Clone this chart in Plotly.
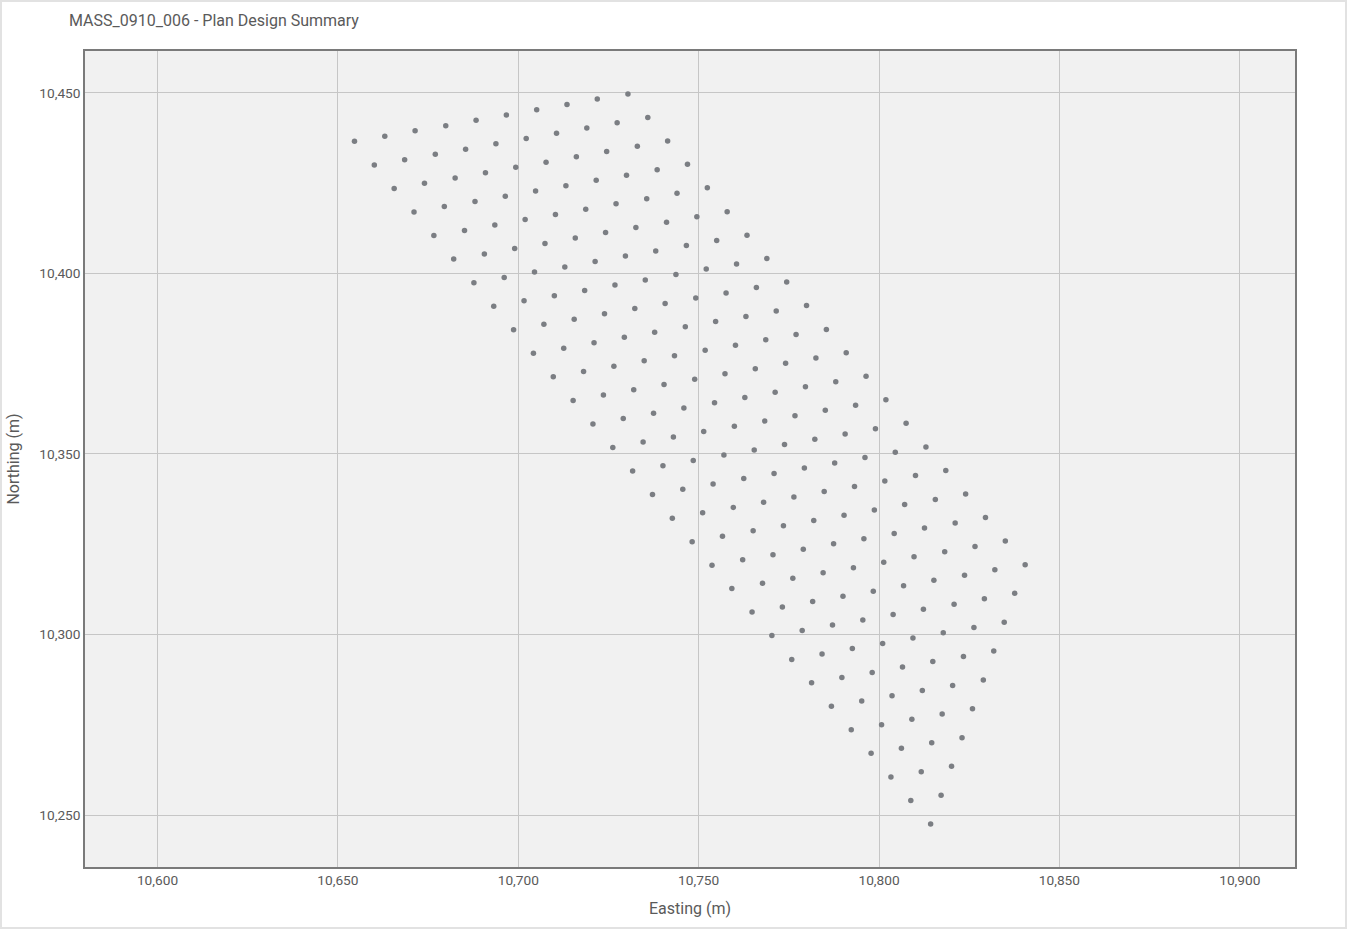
import plotly.graph_objects as go

TITLE = "MASS_0910_006 - Plan Design Summary"
X_TITLE = "Easting (m)"
Y_TITLE = "Northing (m)"

X_TICKS = [10600, 10650, 10700, 10750, 10800, 10850, 10900]
X_TICK_LABELS = ["10,600", "10,650", "10,700", "10,750", "10,800", "10,850", "10,900"]
Y_TICKS = [10250, 10300, 10350, 10400, 10450]
Y_TICK_LABELS = ["10,250", "10,300", "10,350", "10,400", "10,450"]

# Planned station positions, row by row
EASTING = [
    10654.6, 10663.0, 10671.4, 10679.9, 10688.3, 10696.7, 10705.1, 10713.5, 10721.9, 10730.4,
    10660.1, 10668.5, 10677.0, 10685.4, 10693.8, 10702.2, 10710.6, 10719.0, 10727.4, 10735.9,
    10665.6, 10674.0, 10682.5, 10690.9, 10699.3, 10707.7, 10716.1, 10724.5, 10733.0, 10741.4,
    10671.1, 10679.5, 10688.0, 10696.4, 10704.8, 10713.2, 10721.6, 10730.0, 10738.5, 10746.9,
    10676.6, 10685.1, 10693.5, 10701.9, 10710.3, 10718.7, 10727.1, 10735.6, 10744.0, 10752.4,
    10682.1, 10690.6, 10699.0, 10707.4, 10715.8, 10724.2, 10732.6, 10741.1, 10749.5, 10757.9,
    10687.7, 10696.1, 10704.5, 10712.9, 10721.3, 10729.7, 10738.1, 10746.6, 10755.0, 10763.4,
    10693.2, 10701.6, 10710.0, 10718.4, 10726.8, 10735.2, 10743.7, 10752.1, 10760.5, 10768.9,
    10698.7, 10707.1, 10715.5, 10723.9, 10732.3, 10740.7, 10749.2, 10757.6, 10766.0, 10774.4,
    10704.2, 10712.6, 10721.0, 10729.4, 10737.8, 10746.3, 10754.7, 10763.1, 10771.5, 10779.9,
    10709.7, 10718.1, 10726.5, 10734.9, 10743.3, 10751.8, 10760.2, 10768.6, 10777.0, 10785.4,
    10715.2, 10723.6, 10732.0, 10740.4, 10748.9, 10757.3, 10765.7, 10774.1, 10782.5, 10790.9,
    10720.7, 10729.1, 10737.5, 10745.9, 10754.4, 10762.8, 10771.2, 10779.6, 10788.0, 10796.4,
    10726.2, 10734.6, 10743.0, 10751.4, 10759.9, 10768.3, 10776.7, 10785.1, 10793.5, 10801.9,
    10731.7, 10740.1, 10748.5, 10757.0, 10765.4, 10773.8, 10782.2, 10790.6, 10799.0, 10807.5,
    10737.2, 10745.6, 10754.0, 10762.5, 10770.9, 10779.3, 10787.7, 10796.1, 10804.5, 10813.0,
    10742.7, 10751.1, 10759.6, 10768.0, 10776.4, 10784.8, 10793.2, 10801.6, 10810.1, 10818.5,
    10748.2, 10756.6, 10765.1, 10773.5, 10781.9, 10790.3, 10798.7, 10807.1, 10815.6, 10824.0,
    10753.7, 10762.2, 10770.6, 10779.0, 10787.4, 10795.8, 10804.2, 10812.6, 10821.1, 10829.5,
    10759.2, 10767.7, 10776.1, 10784.5, 10792.9, 10801.3, 10809.7, 10818.2, 10826.6, 10835.0,
    10764.8, 10773.2, 10781.6, 10790.0, 10798.4, 10806.8, 10815.2, 10823.7, 10832.1, 10840.5,
    10770.3, 10778.7, 10787.1, 10795.5, 10803.9, 10812.3, 10820.8, 10829.2, 10837.6,
    10775.8, 10784.2, 10792.6, 10801.0, 10809.4, 10817.8, 10826.3, 10834.7,
    10781.3, 10789.7, 10798.1, 10806.5, 10814.9, 10823.4, 10831.8,
    10786.8, 10795.2, 10803.6, 10812.0, 10820.4, 10828.9,
    10792.3, 10800.7, 10809.1, 10817.5, 10825.9,
    10797.8, 10806.2, 10814.6, 10823.0,
    10803.3, 10811.7, 10820.1,
    10808.8, 10817.2,
    10814.3,
]

NORTHING = [
    10436.6, 10438.0, 10439.5, 10440.9, 10442.4, 10443.9, 10445.3, 10446.8, 10448.3, 10449.7,
    10430.0, 10431.5, 10433.0, 10434.4, 10435.9, 10437.4, 10438.8, 10440.3, 10441.7, 10443.2,
    10423.5, 10425.0, 10426.4, 10427.9, 10429.4, 10430.8, 10432.3, 10433.8, 10435.2, 10436.7,
    10417.0, 10418.5, 10419.9, 10421.4, 10422.8, 10424.3, 10425.8, 10427.2, 10428.7, 10430.2,
    10410.5, 10411.9, 10413.4, 10414.9, 10416.3, 10417.8, 10419.3, 10420.7, 10422.2, 10423.7,
    10404.0, 10405.4, 10406.9, 10408.3, 10409.8, 10411.3, 10412.7, 10414.2, 10415.7, 10417.1,
    10397.4, 10398.9, 10400.4, 10401.8, 10403.3, 10404.8, 10406.2, 10407.7, 10409.1, 10410.6,
    10390.9, 10392.4, 10393.8, 10395.3, 10396.8, 10398.2, 10399.7, 10401.2, 10402.6, 10404.1,
    10384.4, 10385.9, 10387.3, 10388.8, 10390.3, 10391.7, 10393.2, 10394.6, 10396.1, 10397.6,
    10377.9, 10379.3, 10380.8, 10382.3, 10383.7, 10385.2, 10386.7, 10388.1, 10389.6, 10391.1,
    10371.4, 10372.8, 10374.3, 10375.8, 10377.2, 10378.7, 10380.1, 10381.6, 10383.1, 10384.5,
    10364.8, 10366.3, 10367.8, 10369.2, 10370.7, 10372.2, 10373.6, 10375.1, 10376.6, 10378.0,
    10358.3, 10359.8, 10361.3, 10362.7, 10364.2, 10365.6, 10367.1, 10368.6, 10370.0, 10371.5,
    10351.8, 10353.3, 10354.7, 10356.2, 10357.7, 10359.1, 10360.6, 10362.1, 10363.5, 10365.0,
    10345.3, 10346.7, 10348.2, 10349.7, 10351.1, 10352.6, 10354.1, 10355.5, 10357.0, 10358.5,
    10338.8, 10340.2, 10341.7, 10343.2, 10344.6, 10346.1, 10347.5, 10349.0, 10350.5, 10351.9,
    10332.2, 10333.7, 10335.2, 10336.6, 10338.1, 10339.6, 10341.0, 10342.5, 10344.0, 10345.4,
    10325.7, 10327.2, 10328.7, 10330.1, 10331.6, 10333.0, 10334.5, 10336.0, 10337.4, 10338.9,
    10319.2, 10320.7, 10322.1, 10323.6, 10325.1, 10326.5, 10328.0, 10329.5, 10330.9, 10332.4,
    10312.7, 10314.2, 10315.6, 10317.1, 10318.5, 10320.0, 10321.5, 10322.9, 10324.4, 10325.9,
    10306.2, 10307.6, 10309.1, 10310.6, 10312.0, 10313.5, 10315.0, 10316.4, 10317.9, 10319.3,
    10299.7, 10301.1, 10302.6, 10304.0, 10305.5, 10307.0, 10308.4, 10309.9, 10311.4,
    10293.1, 10294.6, 10296.1, 10297.5, 10299.0, 10300.5, 10301.9, 10303.4,
    10286.6, 10288.1, 10289.5, 10291.0, 10292.5, 10293.9, 10295.4,
    10280.1, 10281.6, 10283.0, 10284.5, 10285.9, 10287.4,
    10273.6, 10275.0, 10276.5, 10278.0, 10279.4,
    10267.1, 10268.5, 10270.0, 10271.4,
    10260.5, 10262.0, 10263.5,
    10254.0, 10255.5,
    10247.5,
]

W, H = 1347, 929
ML, MR, MT, MB = 85, 52, 51, 62
PW, PH = W - ML - MR, H - MT - MB

FONT = "Roboto, 'Noto Sans', Arial, sans-serif"
TEXT = "#5a5a5a"

fig = go.Figure()
fig.add_trace(go.Scatter(
    x=EASTING, y=NORTHING, mode="markers",
    marker=dict(size=5.5, color="#7b7e83", line=dict(width=0)),
    hoverinfo="x+y", showlegend=False,
))


def px_x(p):
    return (p - ML) / PW


def px_y(p):
    return 1 - (p - MT) / PH


# light frame around the whole picture
fig.add_shape(type="rect", xref="paper", yref="paper",
              x0=px_x(1), x1=px_x(1346), y0=px_y(928), y1=px_y(1),
              line=dict(color="#e2e2e2", width=2), fillcolor="rgba(0,0,0,0)",
              layer="below")

fig.update_layout(
    width=W, height=H,
    margin=dict(l=ML, r=MR, t=MT, b=MB, pad=0),
    paper_bgcolor="white",
    plot_bgcolor="#f1f1f1",
    font=dict(family=FONT, size=13.7, color=TEXT),
    title=dict(text=TITLE, x=69 / W, xanchor="left", xref="container",
               y=1 - 20 / H, yanchor="middle", yref="container",
               font=dict(family=FONT, size=16, color=TEXT)),
    xaxis=dict(
        range=[10579.9, 10915.3], tickvals=X_TICKS, ticktext=X_TICK_LABELS,
        showgrid=True, gridcolor="#c6c6c6", gridwidth=1, zeroline=False,
        showline=True, linecolor="#7a7a7a", linewidth=1.5, mirror=True,
        ticks="", tickfont=dict(size=13.7, color=TEXT),
        title=dict(text=X_TITLE, standoff=16, font=dict(size=16, color=TEXT)),
    ),
    yaxis=dict(
        range=[10235.6, 10461.6], tickvals=Y_TICKS, ticktext=Y_TICK_LABELS,
        showgrid=True, gridcolor="#c6c6c6", gridwidth=1, zeroline=False,
        showline=True, linecolor="#7a7a7a", linewidth=1.5, mirror=True,
        ticks="", tickfont=dict(size=13.7, color=TEXT),
        title=dict(text=Y_TITLE, standoff=16, font=dict(size=16, color=TEXT)),
    ),
)

fig.write_html("out.html", config={"displayModeBar": False},
               post_script="document.body.style.margin='0';")
